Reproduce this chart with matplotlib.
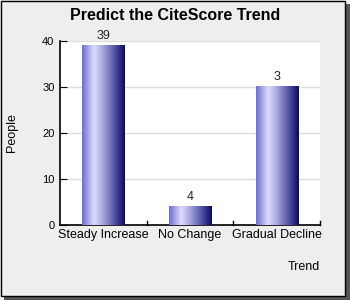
import numpy as np
import matplotlib
matplotlib.use("Agg")
import matplotlib.pyplot as plt
from matplotlib.colors import LinearSegmentedColormap
from matplotlib.patches import Rectangle

categories = ["Steady Increase", "No Change", "Gradual Decline"]
values = [39, 4, 30]
value_labels = ["39", "4", "3"]
yticks = [0, 10, 20, 30, 40]

plt.rcParams["font.family"] = ["Liberation Sans", "DejaVu Sans"]

fig = plt.figure(figsize=(3.5, 3.0), dpi=100)
fig.patch.set_facecolor("#eeeeee")

# frame with shadow around the whole picture
fig.patches.append(Rectangle((4 / 350, 0), 346 / 350, 296 / 300, transform=fig.transFigure,
                             facecolor="#555555", edgecolor="none", zorder=-3))
fig.patches.append(Rectangle((0.5 / 350, 4.5 / 300), 344 / 350, 295 / 300, transform=fig.transFigure,
                             facecolor="#eeeeee", edgecolor="black", linewidth=1.0, zorder=-2))

ax = fig.add_axes([60 / 350, 75 / 300, 260 / 350, 184 / 300])
ax.set_facecolor("white")

# cylinder like shading
cmap = LinearSegmentedColormap.from_list(
    "cyl", [(0.0, "#6e6ece"), (0.28, "#dcdcff"), (0.5, "#a4a4da"),
            (0.78, "#4e4ea0"), (1.0, "#0a0a62")])
grad = np.linspace(0, 1, 128).reshape(1, -1)

x = np.arange(len(categories))
width = 0.485
bars = ax.bar(x, values, width=width, color="none", edgecolor="none", zorder=3)
for b, lab in zip(bars, value_labels):
    x0, h = b.get_x(), b.get_height()
    ax.imshow(grad, cmap=cmap, aspect="auto", extent=[x0, x0 + width, 0, h],
              zorder=3, interpolation="bilinear")
    ax.text(x0 + width / 2, h + 0.8, lab, ha="center", va="bottom",
            fontsize=9, color="#222222")

ax.set_xlim(-0.5, len(categories) - 0.5)
ax.set_ylim(0, 40)
ax.set_yticks(yticks)
ax.tick_params(axis="y", direction="in", length=5, labelsize=8, pad=4)
ax.yaxis.grid(True, color="#dddddd", linewidth=1, zorder=0)
ax.set_axisbelow(True)

ax.set_xticks(x)
ax.set_xticklabels(categories, fontsize=9)
ax.tick_params(axis="x", length=0, pad=3)
for bnd in np.arange(0.5, len(categories), 1.0):
    ax.plot([bnd, bnd], [0, 0.9], color="black", linewidth=1, clip_on=False, zorder=4)

ax.spines["top"].set_visible(False)
ax.spines["right"].set_visible(False)
ax.spines["left"].set_linewidth(1.2)
ax.spines["bottom"].set_linewidth(1.2)

fig.suptitle("Predict the CiteScore Trend", x=0.5, y=0.975, fontsize=11.5, fontweight="bold")
ax.set_xlabel("Trend", fontsize=9, loc="right", labelpad=14)
ax.set_ylabel("People", fontsize=9, labelpad=17)

fig.savefig("out.png", dpi=100, facecolor=fig.get_facecolor())
